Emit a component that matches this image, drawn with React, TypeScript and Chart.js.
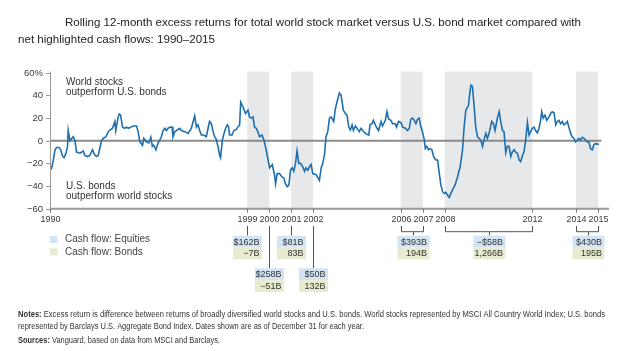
import { useEffect, useRef } from "react";
import { Chart, registerables } from "chart.js";

Chart.register(...registerables);

// ---------- DATA ----------
const years = [
  1990.0, 1990.08, 1990.15, 1990.23, 1990.3, 1990.41, 1990.49, 1990.56, 1990.64, 1990.73, 1990.8, 1990.83, 1990.91, 1990.99,
  1991.06, 1991.14, 1991.21, 1991.37, 1991.52, 1991.59, 1991.7, 1991.82, 1991.94, 1992.02, 1992.12, 1992.2, 1992.28, 1992.35,
  1992.43, 1992.55, 1992.66, 1992.73, 1992.85, 1992.96, 1993.0, 1993.11, 1993.16, 1993.22, 1993.31, 1993.41, 1993.49, 1993.57,
  1993.69, 1993.79, 1993.95, 1994.02, 1994.1, 1994.22, 1994.28, 1994.4, 1994.51, 1994.6, 1994.67, 1994.73, 1994.83, 1994.93,
  1995.01, 1995.08, 1995.16, 1995.24, 1995.31, 1995.39, 1995.49, 1995.57, 1995.61, 1995.69, 1995.77, 1995.92, 1995.99, 1996.15,
  1996.3, 1996.45, 1996.53, 1996.6, 1996.68, 1996.75, 1996.83, 1996.9, 1997.01, 1997.13, 1997.21, 1997.28, 1997.36, 1997.44,
  1997.51, 1997.59, 1997.66, 1997.74, 1997.78, 1997.86, 1997.92, 1998.01, 1998.09, 1998.15, 1998.19, 1998.3, 1998.39, 1998.5,
  1998.57, 1998.65, 1998.7, 1998.8, 1998.92, 1999.03, 1999.1, 1999.18, 1999.26, 1999.33, 1999.41, 1999.48, 1999.56, 1999.67,
  1999.76, 1999.86, 1999.95, 2000.02, 2000.14, 2000.24, 2000.29, 2000.36, 2000.47, 2000.58, 2000.67, 2000.74, 2000.82, 2000.9,
  2000.97, 2001.05, 2001.12, 2001.2, 2001.27, 2001.35, 2001.43, 2001.53, 2001.61, 2001.68, 2001.76, 2001.84, 2001.91, 2001.99,
  2002.14, 2002.29, 2002.37, 2002.44, 2002.52, 2002.59, 2002.67, 2002.75, 2002.82, 2002.94, 2003.02, 2003.13, 2003.2, 2003.28,
  2003.38, 2003.47, 2003.55, 2003.63, 2003.7, 2003.78, 2003.84, 2003.93, 2004.04, 2004.11, 2004.19, 2004.26, 2004.42, 2004.54,
  2004.6, 2004.69, 2004.75, 2004.84, 2004.92, 2004.99, 2005.1, 2005.17, 2005.3, 2005.37, 2005.45, 2005.55, 2005.63, 2005.75,
  2005.81, 2005.9, 2006.01, 2006.09, 2006.21, 2006.31, 2006.39, 2006.46, 2006.54, 2006.62, 2006.69, 2006.77, 2006.84, 2006.92,
  2006.99, 2007.07, 2007.12, 2007.19, 2007.27, 2007.34, 2007.42, 2007.5, 2007.6, 2007.68, 2007.76, 2007.83, 2007.91, 2007.99,
  2008.06, 2008.13, 2008.21, 2008.29, 2008.36, 2008.48, 2008.59, 2008.71, 2008.82, 2008.89, 2008.97, 2009.09, 2009.15, 2009.2,
  2009.27, 2009.35, 2009.42, 2009.5, 2009.58, 2009.65, 2009.73, 2009.8, 2009.88, 2009.95, 2010.03, 2010.15, 2010.23, 2010.3,
  2010.41, 2010.49, 2010.56, 2010.64, 2010.71, 2010.79, 2010.86, 2010.94, 2011.02, 2011.09, 2011.17, 2011.24, 2011.32, 2011.4,
  2011.47, 2011.55, 2011.62, 2011.7, 2011.78, 2011.85, 2011.93, 2012.0, 2012.08, 2012.15, 2012.23, 2012.31, 2012.38, 2012.43,
  2012.5, 2012.58, 2012.66, 2012.76, 2012.84, 2012.91, 2012.99, 2013.07, 2013.14, 2013.22, 2013.29, 2013.37, 2013.44, 2013.52,
  2013.6, 2013.67, 2013.75, 2013.82, 2013.9, 2013.98, 2014.05, 2014.13, 2014.2, 2014.28, 2014.36, 2014.43, 2014.51, 2014.58,
  2014.66, 2014.74, 2014.8, 2014.89, 2014.96, 2015.04,
];

const excessReturns = [
  -26, -24, -17, -8, -6, -6, -8, -13, -15, -11, -5, 9, 0, 2,
  3.5, 0, -10, -11, -9, -13, -14, -13, -8, -12, -14, -13, -6, 0,
  2, 3.5, 8, 9.4, 11, 17, 9, 21, 23.5, 22.6, 12, 11, 12, 11,
  12, 13, 13, 8, -1, -4, 2, -1, -2, 3, -5, -4, -8, -2,
  0.5, 3.5, 9, 11, 9, 11, 12, 12, 3.5, 8, 9, 11, 9, 8,
  6.5, 11, 17, 22, 12, 14, 9, 5, 5, 3.5, 11, 17, 15, 8,
  3.5, 1, -5, -13, -15, 0.5, 5, 11, 14, 12, 5, 5, 9, 10,
  12, 14, 34, 30, 24, 27, 21, 20, 21, 12, 11, 8, 3.5, 5,
  0.5, -8, -17, -24, -21, -30, -38, -29, -29, -32, -33, -38, -40.6, -39,
  -26, -24, -27, -20, -9, -20, -20, -23, -27, -24, -26, -23, -21, -29,
  -30, -35, -24, -20, -13, 3.5, 8, 20, 21, 17, 28.5, 37, 42, 40,
  27, 24, 22.6, 12, 9.4, 14, 9, 13, 10, 8, 11, 9, 6, 5,
  14, 15, 18, 14, 11, 9, 17, 13, 18, 25.6, 19, 18, 15, 15,
  12, 17, 16, 12, 11, 9, 11, 19, 20, 18, 15, 19, 20, 12,
  8, 1, -7, -5, -8, -7, -8, -14, -17, -17, -29, -39, -45, -46.5,
  -45.6, -48, -50, -46.5, -43.5, -39, -32, -23, -8, 12, 27, 31, 42, 49,
  48, 30, 12, 3.5, 2, 0.6, -5, 1, 6.5, 2, 6.5, 17, 15, 9,
  20, 25.6, 17, 9, 8, -10.6, -5, -5, -14, -10, -8, -10, -11, -17,
  -18.5, -13, -10, 0.6, 16, 5, 8, 11, 12, 9, 7, 11, 18, 25.6,
  20, 22.6, 18, 21, 24, 25.6, 24.7, 14, 17, 18, 15, 17, 14, 15,
  17, 12, 6.5, 3.5, 2, -1, 0.6, 2, 0.6, 3, 2, 0.6, -1, -1,
  -7, -8, -4, -2.4, -3, -3,
];

const yTicks = [60, 40, 20, 0, -20, -40, -60];
const yTickLabels = ["60%", "40", "20", "0", "\u221220", "\u221240", "\u221260"];
const xTickYears = [1990, 1999, 2000, 2001, 2002, 2006, 2007, 2008, 2012, 2014, 2015];
const shadedStarts = [1999, 2001, 2006, 2008, 2014];
const shadedEnds = [2000, 2002, 2007, 2012, 2015];
const flowStarts = [1999, 2000, 2001, 2002, 2006, 2008, 2014];
const flowEnds = [1999, 2000, 2001, 2002, 2007, 2012, 2015];
const equityFlows = ["$162B", "$258B", "$81B", "$50B", "$393B", "\u2212$58B", "$430B"];
const bondFlows = ["\u22127B", "\u221251B", "83B", "132B", "194B", "1,266B", "195B"];

const titleLines = [
  "Rolling 12-month excess returns for total world stock market versus U.S. bond market compared with",
  "net highlighted cash flows: 1990\u20132015",
];
const upperNote = ["World stocks", "outperform U.S. bonds"];
const lowerNote = ["U.S. bonds", "outperform world stocks"];
const legendLabels = ["Cash flow: Equities", "Cash flow: Bonds"];
const notesLine1 =
  "Excess return is difference between returns of broadly diversified world stocks and U.S. bonds. World stocks represented by MSCI All Country World Index; U.S. bonds";
const notesLine2 =
  "represented by Barclays U.S. Aggregate Bond Index. Dates shown are as of December 31 for each year.";
const sourcesLine = "Vanguard, based on data from MSCI and Barclays.";

// ---------- STYLE ----------
const FONT = '"Liberation Sans", Arial, Helvetica, sans-serif';
const LINE_COLOR = "#1f6fae";
const SHADE = "#e7e8e9";
const EQ_COLOR = "#d3e4f4";
const BOND_COLOR = "#e7ebcf";

type Seg = { text: string; bold?: boolean; color?: string };

function drawFitted(
  ctx: CanvasRenderingContext2D,
  segs: Seg[],
  x: number,
  y: number,
  target: number,
  size: number,
  color: string
) {
  let total = 0;
  const widths = segs.map((s) => {
    ctx.font = `${s.bold ? "bold " : ""}${size}px ${FONT}`;
    const w = ctx.measureText(s.text).width;
    total += w;
    return w;
  });
  const k = target / total;
  ctx.save();
  ctx.translate(x, y);
  ctx.scale(k, 1);
  ctx.textAlign = "left";
  ctx.textBaseline = "middle";
  let cx = 0;
  segs.forEach((s, i) => {
    ctx.font = `${s.bold ? "bold " : ""}${size}px ${FONT}`;
    ctx.fillStyle = s.color || color;
    ctx.fillText(s.text, cx, 0);
    cx += widths[i];
  });
  ctx.restore();
}

const decorPlugin = {
  id: "decor",
  beforeDatasetsDraw(chart: any) {
    const { ctx, chartArea } = chart;
    const xs = chart.scales.x;
    const ys = chart.scales.y;
    ctx.save();
    ctx.fillStyle = SHADE;
    shadedStarts.forEach((a, i) => {
      const x1 = xs.getPixelForValue(a);
      const x2 = xs.getPixelForValue(shadedEnds[i]);
      ctx.fillRect(x1, chartArea.top, x2 - x1, chartArea.bottom - chartArea.top);
    });
    // zero line
    const y0 = ys.getPixelForValue(0);
    ctx.strokeStyle = "#8a8a8a";
    ctx.lineWidth = 2;
    ctx.beginPath();
    ctx.moveTo(chartArea.left, y0);
    ctx.lineTo(xs.getPixelForValue(2015.15), y0);
    ctx.stroke();
    ctx.restore();
  },
  afterDraw(chart: any) {
    const { ctx, chartArea } = chart;
    const xs = chart.scales.x;
    const ys = chart.scales.y;
    const { left, right, top, bottom } = chartArea;
    ctx.save();

    // y axis
    ctx.strokeStyle = "#9a9a9a";
    ctx.lineWidth = 1;
    ctx.beginPath();
    ctx.moveTo(left + 0.5, top);
    ctx.lineTo(left + 0.5, bottom);
    ctx.stroke();
    ctx.font = `9.5px ${FONT}`;
    ctx.fillStyle = "#3a3a3a";
    ctx.textAlign = "right";
    ctx.textBaseline = "middle";
    yTicks.forEach((v, i) => {
      const y = Math.round(ys.getPixelForValue(v)) + 0.5;
      ctx.beginPath();
      ctx.moveTo(left - 4, y);
      ctx.lineTo(left, y);
      ctx.stroke();
      ctx.fillText(yTickLabels[i], left - 7, y);
    });

    // x axis
    ctx.strokeStyle = "#9a9a9a";
    ctx.lineWidth = 2;
    ctx.beginPath();
    ctx.moveTo(left, bottom);
    ctx.lineTo(right, bottom);
    ctx.stroke();
    ctx.lineWidth = 1;
    ctx.strokeStyle = "#777";
    ctx.font = `9px ${FONT}`;
    ctx.textAlign = "center";
    xTickYears.forEach((yr) => {
      const x = Math.round(xs.getPixelForValue(yr)) + 0.5;
      ctx.beginPath();
      ctx.moveTo(x, bottom);
      ctx.lineTo(x, bottom + 4);
      ctx.stroke();
      ctx.fillText(String(yr), x, bottom + 11);
    });

    // in-plot notes
    ctx.font = `10px ${FONT}`;
    ctx.fillStyle = "#333";
    ctx.textAlign = "left";
    ctx.fillText(upperNote[0], 66, 82.5);
    ctx.fillText(upperNote[1], 66, 92.5);
    ctx.fillText(lowerNote[0], 66, 186);
    ctx.fillText(lowerNote[1], 66, 196);

    // cash flow boxes
    const stemTop = 226;
    const row1 = 235.7;
    const row2 = 268.3;
    const bh = 11.8;
    const dropped = [false, true, false, true, false, false, false];
    ctx.strokeStyle = "#555";
    ctx.lineWidth = 1;
    flowStarts.forEach((a, i) => {
      const b = flowEnds[i];
      const xa = Math.round(xs.getPixelForValue(a)) + 0.5;
      const xb = Math.round(xs.getPixelForValue(b)) + 0.5;
      const boxTop = dropped[i] ? row2 : row1;
      let cx = xa;
      let w = 29;
      if (a === b) {
        ctx.beginPath();
        ctx.moveTo(xa, stemTop);
        ctx.lineTo(xa, boxTop);
        ctx.stroke();
      } else {
        w = 32;
        cx = Math.round((xa + xb) / 2) + 0.5;
        const by = 231.7;
        ctx.beginPath();
        ctx.moveTo(xa, stemTop);
        ctx.lineTo(xa, by);
        ctx.lineTo(xb, by);
        ctx.lineTo(xb, stemTop);
        ctx.moveTo(cx, by);
        ctx.lineTo(cx, boxTop);
        ctx.stroke();
      }
      const bx = cx - w / 2;
      ctx.fillStyle = EQ_COLOR;
      ctx.fillRect(bx, boxTop, w, bh);
      ctx.fillStyle = BOND_COLOR;
      ctx.fillRect(bx, boxTop + bh, w, bh);
      ctx.fillStyle = "#333";
      ctx.font = `9px ${FONT}`;
      ctx.textAlign = "right";
      ctx.textBaseline = "middle";
      ctx.fillText(equityFlows[i], bx + w - 2.5, boxTop + bh / 2 + 0.5);
      ctx.fillText(bondFlows[i], bx + w - 2.5, boxTop + bh * 1.5 + 0.5);
    });

    // legend
    ctx.fillStyle = EQ_COLOR;
    ctx.fillRect(50, 236, 7.5, 7);
    ctx.fillStyle = BOND_COLOR;
    ctx.fillRect(50, 248.3, 7.5, 7);
    ctx.fillStyle = "#444";
    ctx.font = `10px ${FONT}`;
    ctx.textAlign = "left";
    ctx.fillText(legendLabels[0], 65, 239.5);
    ctx.fillText(legendLabels[1], 65, 252);

    // title
    drawFitted(ctx, [{ text: titleLines[0] }], 65, 22.5, 516, 11, "#222");
    drawFitted(ctx, [{ text: titleLines[1] }], 18, 39.5, 197, 11, "#222");

    // notes
    drawFitted(ctx, [{ text: "Notes: ", bold: true }, { text: notesLine1 }], 18, 314.5, 587, 8.5, "#333");
    drawFitted(ctx, [{ text: notesLine2 }], 18, 327, 346, 8.5, "#333");
    drawFitted(ctx, [{ text: "Sources: ", bold: true }, { text: sourcesLine }], 18, 340.5, 202, 8.5, "#333");

    ctx.restore();
  },
};

export default function App() {
  const ref = useRef<HTMLCanvasElement | null>(null);
  useEffect(() => {
    if (!ref.current) return;
    const chart = new Chart(ref.current, {
      type: "line",
      data: {
        datasets: [
          {
            data: years.map((x, i) => ({ x, y: excessReturns[i] })),
            borderColor: LINE_COLOR,
            borderWidth: 1.6,
            pointRadius: 0,
            tension: 0,
            fill: false,
          },
        ],
      },
      options: {
        responsive: false,
        animation: false,
        devicePixelRatio: 1,
        events: [],
        layout: { padding: { left: 50, right: 11, top: 71.6, bottom: 351 - 208.7 } },
        scales: {
          x: { type: "linear", min: 1990, max: 2015.5, display: false },
          y: { type: "linear", min: -60, max: 61, display: false },
        },
        plugins: { legend: { display: false }, tooltip: { enabled: false }, title: { display: false } },
      } as any,
      plugins: [decorPlugin],
    });
    return () => chart.destroy();
  }, []);
  return (
    <div style={{ position: "fixed", left: 0, top: 0, width: 620, height: 351, background: "#fff" }}>
      <canvas ref={ref} width={620} height={351} style={{ width: 620, height: 351, display: "block" }} />
    </div>
  );
}
